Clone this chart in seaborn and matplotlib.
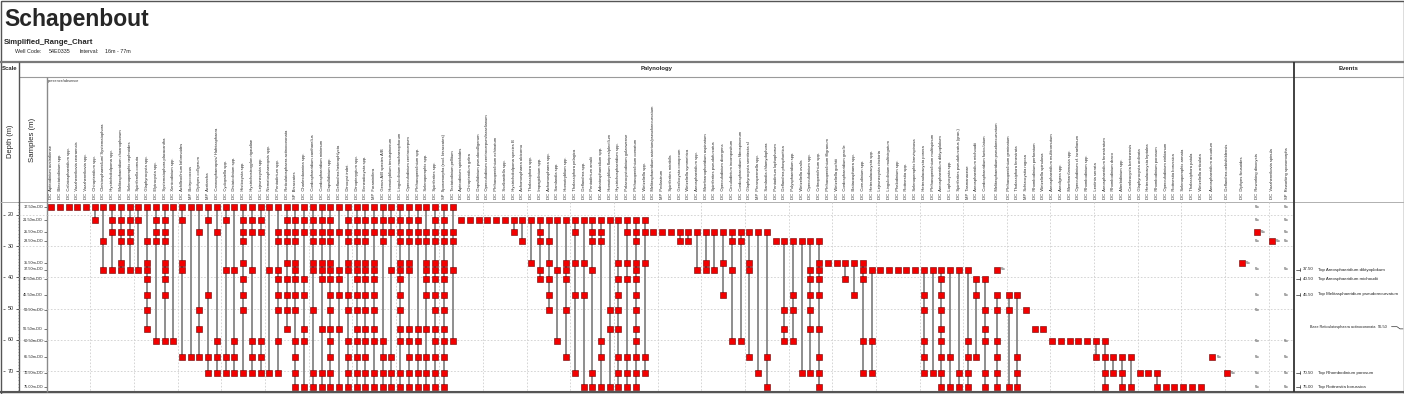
import numpy as np
import pandas as pd
import matplotlib
matplotlib.use("Agg")
import matplotlib.pyplot as plt
import matplotlib.transforms as mtrans
import seaborn as sns

# sample depths (m), top to bottom of the well
sample_depths = [17.5, 21.5, 25.5, 28.5, 35.5, 37.5, 40.5, 45.5, 50.5, 56.5, 60.5, 65.5, 70.5, 75.0]

# taxa, left to right
taxa = [
    "DC  Apteodinium australiense", "DC  Bitectatodinium spp.", "DC  Callaiosphaeridium spp.",
    "DC  Vozzhennikovia cearaensis", "DC  Vozzhennikovia spp.", "DC  Chiropteridium spp.",
    "DC  Cleistosphaeridium/ Systematophora", "DC  Hystrichokolpoma spp.",
    "DC  Melitasphaeridium choanophorum", "DC  Selenopemphix nephroides", "DC  Spiniferella cornuta",
    "DC  Glaphyrocysta spp.", "DC  Elytrocysta spp.", "DC  Systematophora placacantha",
    "DC  Xenicodinium spp.", "DC  Achilleodinium biformoides", "MP  Botryococcus",
    "DC  Diphyes colligerum", "MP  Acritarcha", "DC  Cannosphaeropsis/ Hafniasphaera",
    "DC  Cyclopsiella spp.", "DC  Distatodinium spp.", "DC  Histiocysta spp.",
    "DC  Hystrichostrogylon rigaudiae", "DC  Lejeunecysta spp.", "DC  Nematosphaeropsis spp.",
    "DC  Pentadinium spp.", "DC  Reticulatosphaera actinocoronata", "SP  Bisaccates",
    "DC  Charlesdowniea spp.", "DC  Cordosphaeridium cantharellus", "DC  Cordosphaeridium minimum",
    "DC  Dapsilidinium spp.", "DC  Deflandrea heterophlycta", "DC  Dinocyst indet.",
    "DC  Dinopterygium spp.", "DC  Enneadocysta spp.", "MP  Foraminifera",
    "DC  Genus A/B species A/B", "DC  Homotryblium tenuispinosum", "DC  Lingulodinium machaerophorum",
    "DC  Operculodinium centrocarpum", "DC  Phthanoperidinium spp.", "DC  Selenopemphix spp.",
    "DC  Spiniferites spp.", "SP  Sporomorpha (excl. bisaccates)", "DC  Tectatodinium pellitum",
    "DC  Apteodinium spiridoides", "DC  Chiropteridium galea", "DC  Dapsilidinium pseudocolligerum",
    "DC  Operculodinium centrocarpum/israelianum", "DC  Phthanoperidinium echinatum",
    "DC  Svalbardella spp.", "DC  Hystrichokolpoma species B", "DC  Achomosphaera alcicornu",
    "DC  Thalassiphora spp.", "DC  Impagidinium spp.", "DC  Achomosphaera spp.",
    "DC  Samlandia spp.", "DC  Homotryblium spp.", "DC  Thalassiphora pelagica",
    "DC  Deflandrea spp.", "DC  Pentadinium amalii", "DC  Adnatosphaeridium spp.",
    "DC  Homotryblium floripes/plectilum", "DC  Hystrichosphaeridium spp.",
    "DC  Palaeocystodinium golzowense", "DC  Phthanoperidinium comatum", "DC  Wetzeliella spp.",
    "DC  Melitasphaeridium asterium/pseudorecurvatum", "MP  Pediastrum",
    "DC  Spiniferites mirabilis", "DC  Gerdiocysta conopeum", "DC  Wetzeliella symmetrica",
    "DC  Areosphaeridium spp.", "DC  Membranophoridium aspinatum", "DC  Spiniferites pseudofurcatus",
    "DC  Operculodinium divergens", "DC  Circulodinium incompositum",
    "DC  Cordosphaeridium fibrospinosum", "DC  Glaphyrocysta semitecta sl", "MP  Pterospermella spp.",
    "DC  Samlandia chlamydophora", "DC  Pentadinium lophophorum", "DC  Deflandrea phosphoritica",
    "DC  Polysphaeridium spp.", "DC  Wetzeliella ovalis", "DC  Operculodinium spp.",
    "DC  Cribroperidinium spp.", "DC  Phthanoperidinium filigranum", "DC  Wetzeliella gochtii",
    "DC  Cordosphaeridium gracile", "DC  Batiacasphaera spp.", "DC  Corrudinium spp.",
    "DC  Heteraulacacysta spp.", "DC  Lejeunecysta cinctoria", "DC  Lingulodinium multivirgatum",
    "DC  Phelodinium spp.", "DC  Rottnestia spp.", "DC  Selenopemphix brevispinosa",
    "DC  Heteraulacacysta porosa", "DC  Phthanoperidinium multispinum",
    "DC  Areosphaeridium diktyoplokum", "DC  Lophocysta spp.",
    "DC  Spiniferites pseudofurcatus (gran.)", "MP  Tasmanaceae", "DC  Areosphaeridium michoudii",
    "DC  Cordosphaeridium funiculatum", "DC  Melitasphaeridium pseudorecurvatum",
    "DC  Phthanoperidinium geminatum", "DC  Thalassiphora fenestrata", "MP  Schizocystia rugosa",
    "DC  Rhombodinium perforatum", "DC  Wetzeliella spinulosa", "DC  Areosphaeridium multicornutum",
    "DC  Areoligera spp.", "DC  Membranilarnacia spp.", "DC  Operculodinium cf. israelianum",
    "DC  Rhombodinium spp.", "DC  Lentinia serrata", "DC  Areosphaeridium fenestratum",
    "DC  Rhombodinium draco", "DC  Alterbidinium spp.", "DC  Cerebrocysta bartonensis",
    "DC  Glaphyrocysta ordinata", "DC  Heteraulacacysta leptalea", "DC  Rhombodinium porosum",
    "DC  Operculodinium eirikianum", "DC  Rottnestia borussica", "DC  Selenopemphix armata",
    "DC  Thalassiphora patula", "DC  Wetzeliella articulata", "DC  Areosphaeridium arcuatum",
    "DC  Deflandrea oebisfeldensis", "DC  Diphyes ficusoides", "DC  Reworking dinocysts",
    "DC  Vozzhennikovia spinula", "SP  Reworking sporomorphs",
]

# one character per sample: x = present, r = reworked (Rw), w = Rw note only, . = absent
presence = [
    "x.............", "x.............", "x.............", "x.............", "x.............",
    "xx............", "x..x.x........", "xxx..x........", "xxxxxx........", "xxxx.x........",
    "xx...x........", "x..xxxxxxx....", "xxxx......x...", "xxxxxxxx..x...", "x.........x...",
    "xx..xx.....x..", "x..........x..", "x.x.....xx.x..", "xx.....x...xx.", "x.x.......xxx.",
    "xx...x.....xx.", "x....x....xxx.", "xxxxx.xxx...x.", "xxx..x....xxx.", "xxx.......xxx.",
    "x....x......x.", "x.xx.xxxx.x.x.", "xxxxx.xxxx....", "xxxxxxxxx.xxxx", "xxx...xx.xx..x",
    "xxxxxx..x...xx", "xxxxxxx..x..xx", "xxxxxxxxxxxxxx", "x.x..xxx.x...x", "xxxxxx.xx.xxxx",
    "xxxxxxxxxxxxxx", "xxxxxxxxxxxxxx", "xxx.xxxxxxx.xx", "xxxx......xxxx", "xxx..x.....xxx",
    "xxxxxxxxxxx.xx", "xxxxxx...xxxxx", "xxxx.....xxxxx", "x.xxxxxx.x.xxx", "xxxxxxxxxxxxxx",
    "xxxxxxxxxxxxxx", "x.xx.x....x...",
    ".x............", ".x............", ".x............", ".x............", ".x............",
    ".x............", ".xx...........", ".x.x..........", ".x..x.........", ".xxx.xx.......",
    ".x.xx.xxx.....", ".x...x....x...", ".x..xxx.x..x..", ".xx.x..x....x.", ".x..x..x.....x",
    ".xxx.x......xx", ".xxx......xx.x", ".x......xx...x", ".x..x.xxxx.xxx", ".xx.x.x....xxx",
    ".xxxxxxxxxxxxx", ".xx.x......xx.", "..x...........", "..x...........", "..x...........",
    "..xx..........", "..xx..........", "..x..x........", "..x.xx........", "..x..x........",
    "..x.x..x......", "..xx.x....x...", "..xx......x...", "..x.xx.....x..", "..x.........x.",
    "..x........x.x", "...x..........", "...x....xxx...", "...x...xx.x...", "...x........x.",
    "...x.xxxxx..x.", "...xxxxx.x.xxx", "....x.........", "....x.........", "....x.x.......",
    "....x..x......", "....xxx...x.x.", ".....x....x.x.",
    ".....x........", ".....x........", ".....x........", ".....x........", ".....x........",
    ".....x.xx.xxx.", ".....x......x.", ".....xxxxxxxxx", ".....x.....x.x", ".....x......xx",
    ".....x....xxxx", "......xx...x..", "......x.xxx.xx", ".....r.xx.xxxx", ".......xx....x",
    ".......x...xxx", "........x.....", ".........x....", ".........x....", "..........x...",
    "..........x...", "..........x...", "..........x...", "..........x...", "..........xx..",
    "..........xxxx", "...........xx.", "...........xxx", "...........x.x", "............x.",
    "............x.", "............xx", ".............x", ".............x", ".............x",
    ".............x", ".............x", "...........r..", "............r.", "....r.........",
    "wwrw.w.ww.wwww", "...r..........", "wwww.w.w..wwww",
]

# events column
event_depths = [37.5, 40.5, 45.5, 56.5, 70.5, 75.0]
event_kinds = ["Top", "Top", "Top", "Base", "Top", "Top"]
event_taxa = ["Areosphaeridium diktyoplokum", "Areosphaeridium michoudii",
              "Melitasphaeridium pseudorecurvatum", "Reticulatosphaera actinocoronata",
              "Rhombodinium porosum", "Rottnestia borussica"]

sns.set_style("white")
plt.rcParams["font.family"] = ["Liberation Sans", "DejaVu Sans"]

W, H = 1404, 394
fig = plt.figure(figsize=(W / 100, H / 100), dpi=100)
frame = fig.add_axes([0, 0, 1, 1])
frame.set_xlim(0, W)
frame.set_ylim(H, 0)
frame.set_axis_off()

TOP, BOT = 202, 392
YLIM = (76.7, 15.9)


def track(x0, x1):
    a = fig.add_axes([x0 / W, 1 - BOT / H, (x1 - x0) / W, (BOT - TOP) / H])
    a.set_ylim(*YLIM)
    a.set_axis_off()
    return a


# column widths: columns with Rw notes get some extra room
has_rw = np.array([("r" in p) or ("w" in p) for p in presence])
widths = np.where(has_rw, 1.7, 1.0)
col_x = np.cumsum(widths) - widths / 2
total = widths.sum()

recs = []
for i, p in enumerate(presence):
    for j, ch in enumerate(p):
        if ch != ".":
            recs.append({"x": col_x[i], "depth": sample_depths[j], "kind": ch})
occ = pd.DataFrame(recs)
marks = occ[occ["kind"].isin(["x", "r"])]

# ---- palynology track
ax = track(46.7, 1294)
grid_kw = dict(colors="#cfcfcf", linestyles=(0, (2, 2)), linewidths=0.6, zorder=0)
ax.hlines(np.arange(20, 71, 10), 0, total, **grid_kw)
ax.vlines(np.arange(5, total, 5), YLIM[1], YLIM[0], **grid_kw)

rng = occ[occ["kind"] == "x"].groupby("x")["depth"].agg(["min", "max"])
rng = rng[rng["max"] > rng["min"]]
ax.vlines(rng.index, rng["min"], rng["max"], colors="#8e8e8e", linewidths=1.4, zorder=2)

sns.scatterplot(data=marks, x="x", y="depth", marker="s", s=14, color="#f20000",
                edgecolor="#6a0000", linewidth=0.4, legend=False, ax=ax, zorder=3)

for _, r in occ[occ["kind"] == "r"].iterrows():
    ax.text(r["x"] + 0.45, r["depth"], "Rw", fontsize=2.4, color="#444444",
            ha="left", va="center")
for _, r in occ[occ["kind"] == "w"].iterrows():
    ax.text(r["x"], r["depth"], "Rw", fontsize=2.4, color="#444444",
            ha="center", va="center")
ax.set_xlim(0, total)
ax.set_ylim(*YLIM)
ax.set_axis_off()

# taxa names, rotated
tr = mtrans.blended_transform_factory(ax.transData, frame.transData)
for x, name in zip(col_x, taxa):
    frame.text(x, 199, name, transform=tr, rotation=90, ha="center", va="bottom",
               fontsize=3.0, color="#222222")

# ---- depth scale
sc = track(0, 19)
sc.set_xlim(0, 19)
major = np.arange(20, 71, 10)
sc.hlines(np.arange(16, 77, 1), 17.6, 19, colors="#555555", linewidths=0.4)
sc.hlines(major, 15.5, 19, colors="#444444", linewidths=0.6)
sc.hlines(major, 3.2, 5.2, colors="#444444", linewidths=0.5)
for d in major:
    sc.text(10.5, d, f"{d:d}", fontsize=3.9, ha="center", va="center", color="#222222")

# ---- samples
sm = track(19, 46.7)
sm.set_xlim(19, 46.7)
sm.hlines(np.arange(20, 71, 10), 19, 46.7, **grid_kw)
sm.hlines(sample_depths, 43.6, 46.7, colors="#444444", linewidths=0.5)
for d in sample_depths:
    sm.text(43.0, d, f"{d:.2f}m-DO", fontsize=2.8, ha="right", va="center", color="#222222")

# ---- events
ev = track(1294, 1404)
ev.set_xlim(1294, 1404)
for d, k, name in zip(event_depths, event_kinds, event_taxa):
    if k == "Top":
        ev.plot([1295.5, 1299.5], [d, d], color="#333333", lw=0.5)
        ev.plot([1299.5, 1299.5], [d - 0.5, d + 0.5], color="#333333", lw=0.5)
        ev.text(1302.5, d, f"{d:.2f}", fontsize=3.2, ha="left", va="center", color="#222222")
        ev.text(1317.5, d, f"{k} {name}", fontsize=3.2, ha="left", va="center", color="#222222")
    else:
        ev.text(1309.5, d - 0.7, f"{k} {name}", fontsize=2.7, ha="left", va="center",
                color="#222222")
        ev.text(1378, d - 0.7, f"{d:.2f}", fontsize=2.9, ha="left", va="center", color="#222222")
        ev.plot([1391.5, 1397, 1400, 1403], [d - 0.7, d - 0.7, d, d], color="#333333", lw=0.5)

# ---- frame and header
line = lambda xs, ys, c, lw: frame.plot(xs, ys, color=c, lw=lw, solid_capstyle="butt")
line([0.5, 1403.5, 1403.5, 0.5, 0.5], [0.5, 0.5, 393.5, 393.5, 0.5], "#555555", 1.0)
line([0, W], [62, 62], "#7a7a7a", 1.6)
line([19, W], [76.5, 76.5], "#9a9a9a", 0.8)
line([0, W], [201.5, 201.5], "#b0b0b0", 0.7)
line([0, W], [392, 392], "#555555", 1.5)
line([19, 19], [62, 392], "#555555", 1.0)
line([46.7, 46.7], [76.5, 392], "#8a8a8a", 1.0)
line([1294, 1294], [62, 392], "#333333", 1.3)

frame.text(4, 25.5, "Schapenbout", fontsize=16.5, fontweight="bold", ha="left", va="baseline")
frame.text(4, 44.3, "Simplified_Range_Chart", fontsize=5.6, fontweight="bold",
           ha="left", va="baseline")
for x, s in [(15, "Well Code:"), (49, "54E0335"), (79, "Interval:"), (105, "16m - 77m")]:
    frame.text(x, 53.3, s, fontsize=3.9, ha="left", va="baseline", color="#222222")

frame.text(2, 68.5, "Scale", fontsize=4.3, fontweight="bold", ha="left", va="center")
frame.text(656.5, 68.5, "Palynology", fontsize=4.3, fontweight="bold", ha="center", va="center")
frame.text(1349, 68.5, "Events", fontsize=4.3, fontweight="bold", ha="center", va="center")
frame.text(47.5, 80.5, "presence/absence", fontsize=2.8, ha="left", va="center", color="#333333")
frame.text(10, 141, "Depth (m)", fontsize=5.4, rotation=90, ha="center", va="center")
frame.text(33, 140, "Samples (m)", fontsize=5.6, rotation=90, ha="center", va="center")

fig.savefig("out.png", dpi=100)
